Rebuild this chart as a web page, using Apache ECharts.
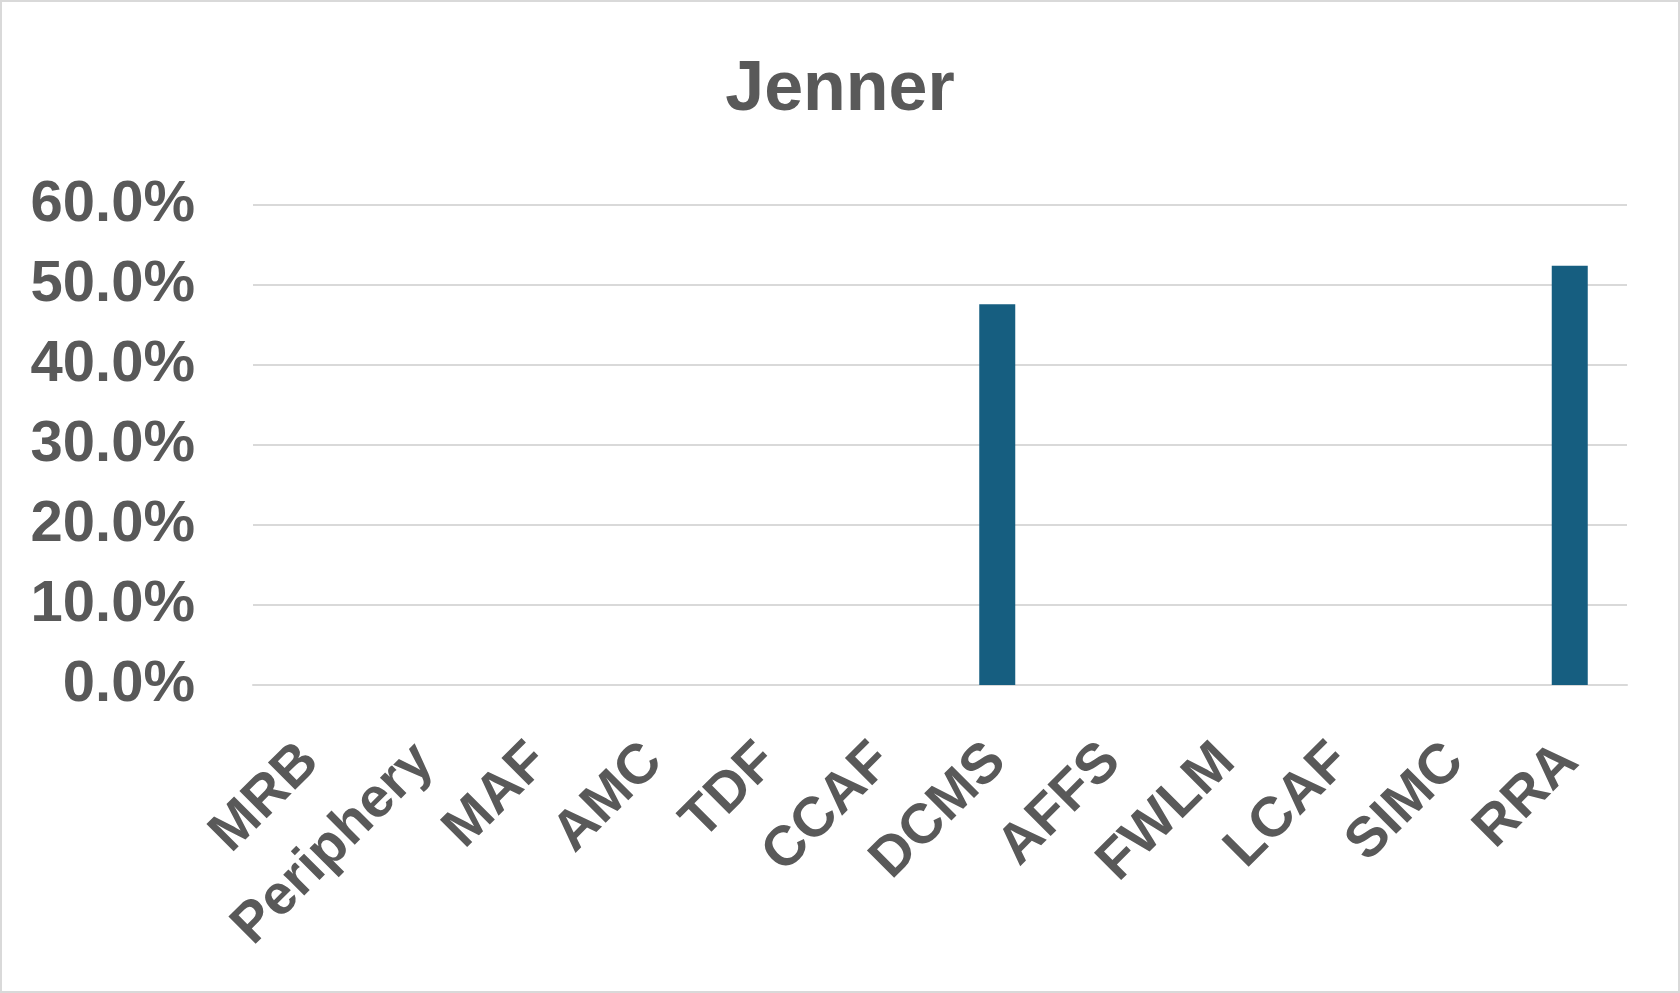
<!DOCTYPE html>
<html>
<head>
<meta charset="utf-8">
<script src="https://cdn.jsdelivr.net/npm/echarts@6/dist/echarts.min.js"></script>
<style>
html,body{margin:0;padding:0;background:#fff;}
#frame{position:absolute;left:0;top:0;width:1676px;height:989px;border:2px solid #d9d9d9;}
#chart{position:absolute;left:0;top:0;width:1680px;height:993px;}
</style>
</head>
<body>
<div id="frame"></div>
<div id="chart"></div>
<script>
const titleText = 'Jenner';
const categories = ['MRB','Periphery','MAF','AMC','TDF','CCAF','DCMS','AFFS','FWLM','LCAF','SIMC','RRA'];
const values = [0,0,0,0,0,0,0.476,0,0,0,0,0.524];
const yTicks = [0,0.1,0.2,0.3,0.4,0.5,0.6];

const chart = echarts.init(document.getElementById('chart'), null, {renderer:'canvas'});
const fontFam = '"Liberation Sans", Arial, sans-serif';
chart.setOption({
  animation:false,
  backgroundColor:'transparent',
  title:{
    text:titleText,
    left:'center',
    top:51,
    textStyle:{fontFamily:fontFam,fontWeight:'bold',fontSize:70,color:'#595959'}
  },
  grid:{left:253,right:53,top:205,bottom:308,containLabel:false},
  xAxis:{
    type:'category',
    data:categories,
    axisLine:{show:true,lineStyle:{color:'#d9d9d9',width:2}},
    axisTick:{show:false},
    axisLabel:{
      rotate:45,
      margin:68,
      interval:0,
      fontFamily:fontFam,fontWeight:'bold',fontSize:56,color:'#595959'
    }
  },
  yAxis:{
    type:'value',
    min:yTicks[0],
    max:yTicks[yTicks.length-1],
    interval:0.1,
    axisLine:{show:false},
    axisTick:{show:false},
    splitLine:{show:true,lineStyle:{color:'#d9d9d9',width:2}},
    axisLabel:{
      margin:58,
      fontFamily:fontFam,fontWeight:'bold',fontSize:58,color:'#595959',
      formatter:v=>(v*100).toFixed(1)+'%'
    }
  },
  series:[{
    type:'bar',
    data:values,
    barWidth:36,
    itemStyle:{color:'#165E80'}
  }]
});
</script>
</body>
</html>
